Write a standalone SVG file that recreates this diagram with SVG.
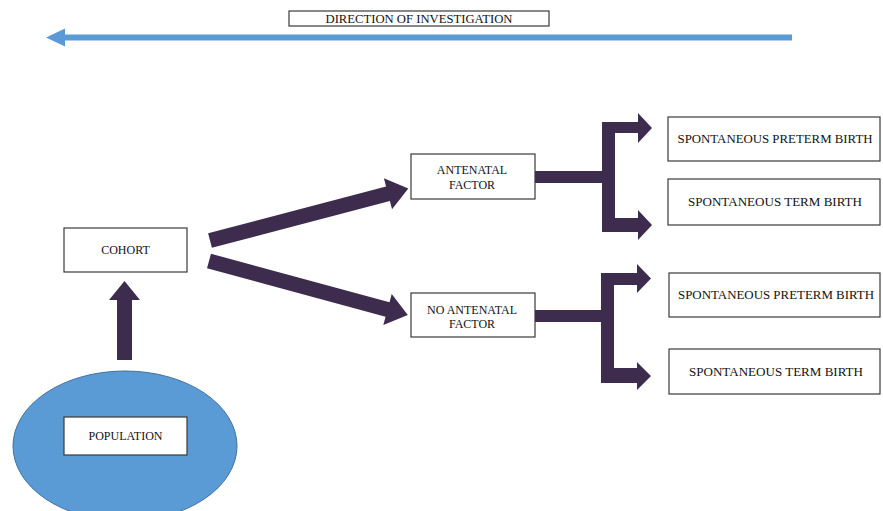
<svg xmlns="http://www.w3.org/2000/svg" width="883" height="511" viewBox="0 0 883 511">
  <style>
    .box { fill: #ffffff; stroke: #3a3a3a; stroke-width: 1.2; }
    .t { font-family: "Liberation Serif", "Times New Roman", serif; font-size: 12px; fill: #111; text-anchor: middle; dominant-baseline: central; }
    .dk { fill: #3d2c4e; }
    .bl { fill: #5b9bd5; }
  </style>
  <rect width="883" height="511" fill="#ffffff"/>

  <g id="direction">
    <rect class="box" x="289" y="11" width="260" height="15"/>
    <text class="t" x="419" y="18.5" font-size="11" textLength="187" lengthAdjust="spacingAndGlyphs">DIRECTION OF INVESTIGATION</text>
    <polygon class="bl" points="46,37.5 65,28.5 65,34.5 792,34.5 792,40.5 65,40.5 65,46.5"/>
  </g>

  <g id="connectors">
    <!-- population to cohort -->
    <polygon class="dk" points="117,360 117,300 109,300 124.5,281 140,300 132,300 132,360"/>
    <!-- cohort to antenatal -->
    <g transform="translate(210,240.5) rotate(-14.7)">
      <polygon class="dk" points="0,-7.5 184,-7.5 184,-16 205,0 184,16 184,7.5 0,7.5"/>
    </g>
    <!-- cohort to no antenatal -->
    <g transform="translate(209,261) rotate(15.2)">
      <polygon class="dk" points="0,-7.5 185,-7.5 185,-16 206,0 185,16 185,7.5 0,7.5"/>
    </g>
    <!-- antenatal bracket -->
    <rect class="dk" x="535" y="171" width="68" height="12"/>
    <rect class="dk" x="602" y="122" width="13" height="110"/>
    <polygon class="dk" points="615,122 638,122 638,113 652,128 638,143 638,133 615,133"/>
    <polygon class="dk" points="615,218 638,218 638,210 652,225 638,240 638,232 615,232"/>
    <!-- no antenatal bracket -->
    <rect class="dk" x="535" y="310" width="67" height="12"/>
    <rect class="dk" x="601" y="273" width="13" height="110"/>
    <polygon class="dk" points="614,273 637,273 637,264 651,278.5 637,293 637,285 614,285"/>
    <polygon class="dk" points="614,368 637,368 637,362 651,376 637,390 637,383 614,383"/>
  </g>

  <g id="population">
    <ellipse class="bl" cx="125" cy="446" rx="112" ry="75" stroke="#41719c" stroke-width="1"/>
    <rect class="box" x="64" y="417" width="123" height="38"/>
    <text class="t" x="125.5" y="436">POPULATION</text>
  </g>

  <g id="cohort">
    <rect class="box" x="64" y="228" width="123" height="44"/>
    <text class="t" x="125.5" y="250">COHORT</text>
  </g>

  <g id="antenatal">
    <rect class="box" x="411" y="154" width="124" height="45"/>
    <text class="t" x="472" y="170">ANTENATAL</text>
    <text class="t" x="472" y="185">FACTOR</text>
  </g>

  <g id="no-antenatal">
    <rect class="box" x="411" y="293" width="124" height="44"/>
    <text class="t" x="472" y="310">NO ANTENATAL</text>
    <text class="t" x="472" y="324">FACTOR</text>
  </g>

  <g id="preterm-1">
    <rect class="box" x="668" y="117" width="212" height="44"/>
    <text class="t" x="775" y="138.5" textLength="195" lengthAdjust="spacingAndGlyphs">SPONTANEOUS PRETERM BIRTH</text>
  </g>

  <g id="term-1">
    <rect class="box" x="668" y="179" width="212" height="46"/>
    <text class="t" x="775" y="202" textLength="174" lengthAdjust="spacingAndGlyphs">SPONTANEOUS TERM BIRTH</text>
  </g>

  <g id="preterm-2">
    <rect class="box" x="669" y="273" width="211" height="44"/>
    <text class="t" x="776" y="294.5" textLength="196" lengthAdjust="spacingAndGlyphs">SPONTANEOUS PRETERM BIRTH</text>
  </g>

  <g id="term-2">
    <rect class="box" x="669" y="349" width="211" height="45"/>
    <text class="t" x="776" y="372" textLength="174" lengthAdjust="spacingAndGlyphs">SPONTANEOUS TERM BIRTH</text>
  </g>
</svg>
